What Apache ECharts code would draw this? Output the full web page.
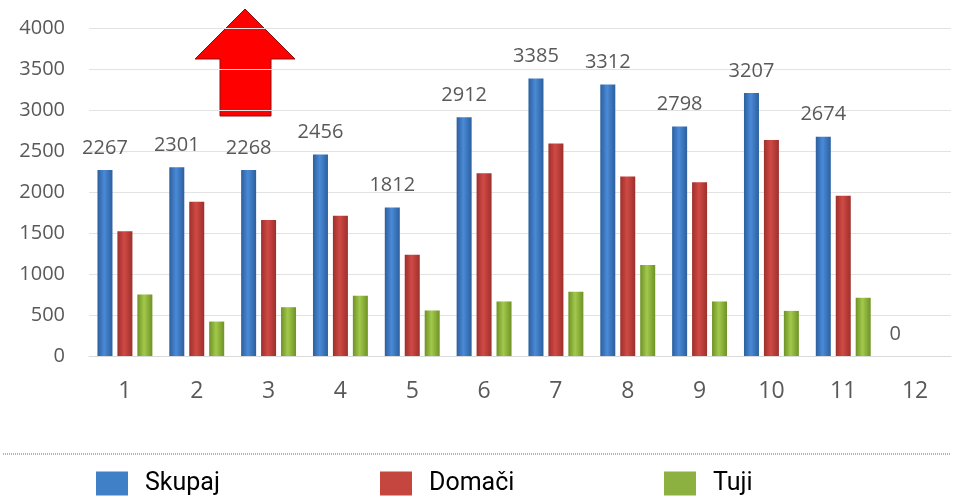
<!DOCTYPE html>
<html>
<head>
<meta charset="utf-8">
<script src="https://cdn.jsdelivr.net/npm/echarts@6/dist/echarts.min.js"></script>
<style>
  html, body { margin: 0; padding: 0; background: #fff; }
  #chart { width: 954px; height: 502px; }
</style>
</head>
<body>
<div id="chart"></div>
<script>
const categories = ['1', '2', '3', '4', '5', '6', '7', '8', '9', '10', '11', '12']
const skupaj = [2267, 2301, 2268, 2456, 1812, 2912, 3385, 3312, 2798, 3207, 2674, 0]
const domaci = [1520, 1880, 1660, 1710, 1235, 2230, 2590, 2190, 2120, 2635, 1955, 0]
const tuji = [750, 420, 595, 735, 555, 665, 785, 1110, 665, 550, 710, 0]
const seriesNames = ['Skupaj', 'Domači', 'Tuji']

const chart = echarts.init(document.getElementById('chart'))

// cylinder-ish look: darker edges, lighter middle
function shade(edge, mid) {
  return new echarts.graphic.LinearGradient(0, 0, 1, 0, [
    { offset: 0, color: edge },
    { offset: 0.45, color: mid },
    { offset: 1, color: edge }
  ])
}

const labelColor = '#595959'
const font = 'Open Sans'

function legendAt(left, name, color) {
  return {
    left: left,
    top: 466,
    itemWidth: 32,
    itemHeight: 24,
    icon: 'rect',
    data: [{ name: name, itemStyle: { color: color } }],
    textStyle: { fontFamily: 'Roboto', fontSize: 25, color: '#000', padding: [0, 0, 0, 12] }
  }
}

chart.setOption({
  backgroundColor: '#fff',
  animation: false,

  grid: { left: 89, right: 3, top: 28, bottom: 146 },

  legend: [
    legendAt(91, seriesNames[0], '#4080c6'),
    legendAt(375, seriesNames[1], '#c4463f'),
    legendAt(659, seriesNames[2], '#8db141')
  ],

  xAxis: {
    type: 'category',
    data: categories,
    axisLine: { lineStyle: { color: '#d9d9d9' } },
    axisTick: { show: false },
    axisLabel: { color: labelColor, fontFamily: font, fontSize: 23, margin: 24 }
  },

  yAxis: {
    type: 'value',
    min: 0,
    max: 4000,
    interval: 500,
    axisLine: { show: false },
    axisTick: { show: false },
    axisLabel: {
      color: labelColor,
      fontFamily: font,
      fontSize: 20,
      margin: 24,
      formatter: v => String(v)
    },
    splitLine: { lineStyle: { color: '#e3e3e3' } }
  },

  series: [
    {
      name: seriesNames[0],
      type: 'bar',
      barWidth: 15,
      barGap: '33%',
      data: skupaj,
      itemStyle: { color: shade('#2c5f9f', '#4a8ad6') },
      label: {
        show: true,
        position: 'top',
        distance: 12,
        color: labelColor,
        fontFamily: font,
        fontSize: 20
      }
    },
    {
      name: seriesNames[1],
      type: 'bar',
      barWidth: 15,
      data: domaci,
      itemStyle: { color: shade('#9e2f2c', '#d04a45') }
    },
    {
      name: seriesNames[2],
      type: 'bar',
      barWidth: 15,
      data: tuji,
      itemStyle: { color: shade('#6f9225', '#a2c94c') }
    }
  ],

  graphic: [
    {
      type: 'polygon',
      shape: {
        points: [[245, 9], [295, 59], [271, 59], [271, 116], [220, 116], [220, 59], [195, 59]]
      },
      style: { fill: '#ff0000', stroke: '#8a1010', lineWidth: 1 }
    },
    {
      type: 'line',
      shape: { x1: 3, y1: 454, x2: 951, y2: 454 },
      style: { stroke: '#666', lineWidth: 1, lineDash: [1, 1] }
    }
  ]
})
</script>
</body>
</html>
